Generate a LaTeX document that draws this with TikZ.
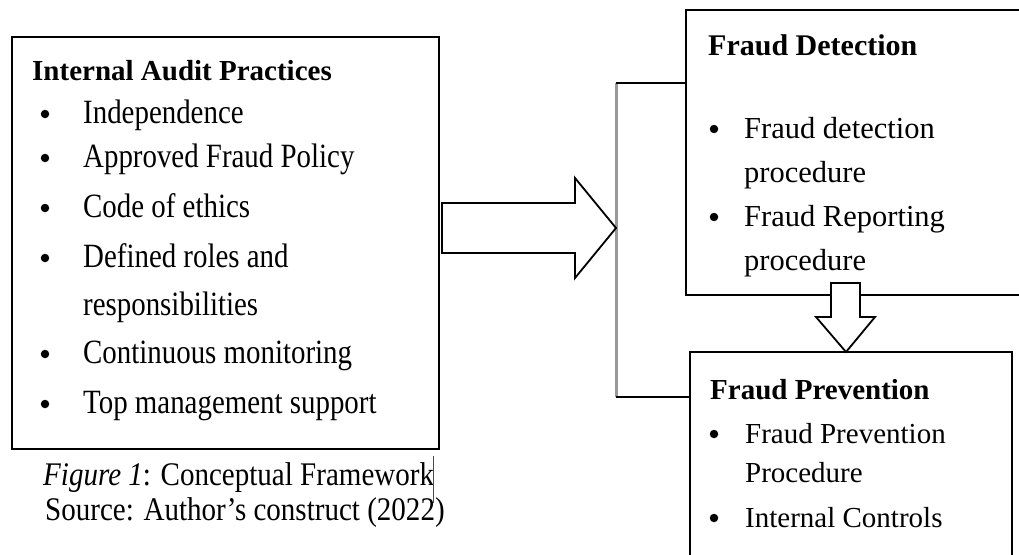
\documentclass[tikz,border=0pt]{standalone}
\usepackage{fontspec}
\setmainfont{Liberation Serif}
\newfontfamily\tallfont{Liberation Serif}[FakeStretch=0.85]
\newfontfamily\capfont{Liberation Serif}[FakeStretch=0.88]
\usetikzlibrary{calc}
\begin{document}
\begin{tikzpicture}[x=1pt,y=-1pt,
  txt/.style={anchor=base west, inner sep=0pt, font=\fontsize{29}{35}\selectfont},
  ltxt/.style={anchor=base west, inner sep=0pt, font=\tallfont\fontsize{34}{40}\selectfont},
  ctxt/.style={anchor=base west, inner sep=0pt, font=\capfont\fontsize{33}{40}\selectfont},
  rtxt/.style={anchor=base west, inner sep=0pt, font=\fontsize{30.5}{36}\selectfont},
  ttl/.style={anchor=base west, inner sep=0pt, font=\fontsize{29}{35}\selectfont\bfseries},
  dot/.style={circle, fill=black, inner sep=0pt, minimum size=8.5pt},
  box/.style={draw=black, line width=2.5pt, inner sep=0pt, fill=white},
  blockarrow/.style={draw=black, fill=white, line width=1.8pt, line join=miter},
  bracket/.style={draw=black, line width=2.4pt},
  graybar/.style={draw=black!40, line width=3pt}]
\useasboundingbox (0,0) rectangle (1019,554);
\clip (0,0) rectangle (1019,554);
\fill[white] (0,0) rectangle (1019,554);

% bracket
\coordinate (brtop) at (616,83);
\coordinate (brbot) at (616,397);
\draw[graybar] (brtop) -- (brbot);

% boxes
\node[box, minimum width=427pt, minimum height=412pt] (iap) at (225.5,243) {};
\node[box, minimum width=354pt, minimum height=285pt] (fd) at (863,152.5) {};
\node[box, minimum width=322pt, minimum height=218pt] (fp) at (851,461) {};

\draw[bracket] (brtop) -- (fd.west |- brtop);
\draw[bracket] (brbot) -- (fp.west |- brbot);

% left box text
\node[ttl] (iapt) at (32,80) {Internal Audit Practices};
\node[dot] (ib1) at (45,114) {};
\node[ltxt] (i1) at (83,123) {Independence};
\node[dot] (ib2) at (45,158) {};
\node[ltxt] (i2) at (83,167) {Approved Fraud Policy};
\node[dot] (ib3) at (45,208) {};
\node[ltxt] (i3) at (83,217) {Code of ethics};
\node[dot] (ib4) at (45,258) {};
\node[ltxt] (i4) at (83,267) {Defined roles and};
\node[ltxt] (i4b) at (83,315) {responsibilities};
\node[dot] (ib5) at (45,354) {};
\node[ltxt] (i5) at (83,363) {Continuous monitoring};
\node[dot] (ib6) at (45,404) {};
\node[ltxt] (i6) at (83,413) {Top management support};

% caption
\node[ctxt] (cap1) at (43,485) {\textit{Figure 1}: Conceptual Framework};
\node[ctxt] (cap2) at (45,520) {Source: Author’s construct (2022)};
\coordinate (cur1) at (433,456);
\coordinate (cur2) at (433,503);
\draw[black!70, line width=0.9pt] (cur1) -- (cur2);

% fraud detection text
\node[ttl, font=\fontsize{30}{36}\selectfont\bfseries] (fdt) at (708,55) {Fraud Detection};
\node[dot] (fb1) at (714,129) {};
\node[rtxt] (f1) at (744,138) {Fraud detection};
\node[rtxt] (f1b) at (744,182) {procedure};
\node[dot] (fb2) at (714,217) {};
\node[rtxt] (f2) at (744,226) {Fraud Reporting};
\node[rtxt] (f2b) at (744,270) {procedure};

% fraud prevention text
\node[ttl] (fpt) at (710,399) {Fraud Prevention};
\node[dot] (pb1) at (714,434) {};
\node[txt] (p1) at (745,443) {Fraud Prevention};
\node[txt] (p1b) at (745,482) {Procedure};
\node[dot] (pb2) at (714,518) {};
\node[txt] (p2) at (745,527) {Internal Controls};

% block arrows
\draw[blockarrow] (442,203) -- (575,203) -- (575,178) -- (616,228) -- (575,278) -- (575,253) -- (442,253) -- cycle;
\draw[blockarrow] (831,283) -- (860,283) -- (860,317) -- (875,317) -- (846,352) -- (816,317) -- (831,317) -- cycle;
\end{tikzpicture}
\end{document}
